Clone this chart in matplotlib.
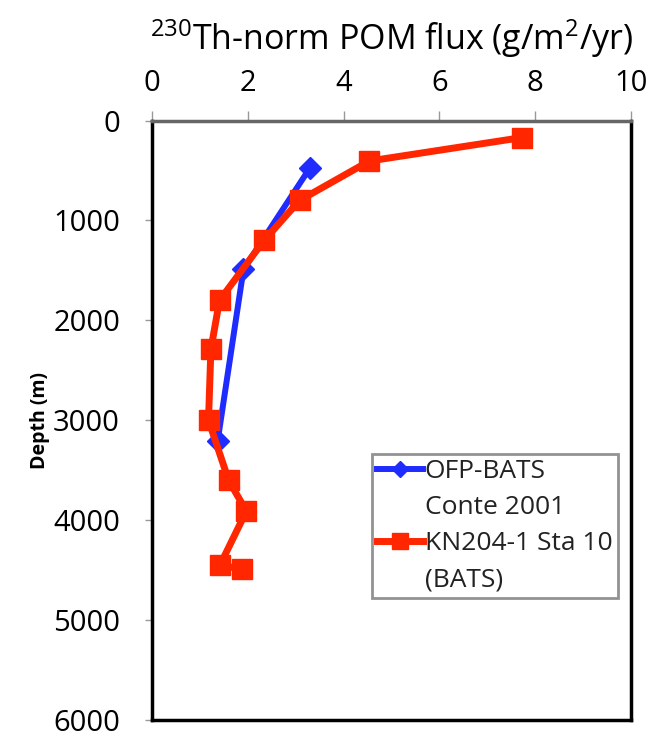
import matplotlib

matplotlib.use("Agg")
import matplotlib.pyplot as plt
from matplotlib.lines import Line2D

plt.rcParams["font.family"] = ["Open Sans", "DejaVu Sans"]
plt.rcParams["mathtext.default"] = "regular"

# OFP-BATS sediment trap (Conte 2001)
ofp_flux = [3.29, 1.91, 1.37]
ofp_depth = [480, 1490, 3210]

# KN204-1 Sta 10 (BATS)
kn_flux = [7.73, 4.54, 3.08, 2.34, 1.41, 1.23, 1.18, 1.60, 1.97, 1.42, 1.88]
kn_depth = [170, 405, 800, 1200, 1800, 2290, 3000, 3600, 3910, 4450, 4490]

x_ticks = [0, 2, 4, 6, 8, 10]
y_ticks = [0, 1000, 2000, 3000, 4000, 5000, 6000]

BLUE = "#1F2CFF"
RED = "#FF2600"

fig = plt.figure(figsize=(6.66, 7.39), dpi=100)
ax = fig.add_axes([0.2282, 0.0257, 0.7192, 0.8112])

ax.plot(ofp_flux, ofp_depth, color=BLUE, lw=4.3, marker="D", ms=11,
        solid_joinstyle="round", zorder=3)
ax.plot(kn_flux, kn_depth, color=RED, lw=5, marker="s", ms=15,
        solid_joinstyle="round", zorder=4)

ax.set_xlim(0, 10)
ax.set_ylim(6000, 0)
ax.set_xticks(x_ticks)
ax.set_yticks(y_ticks)
ax.xaxis.tick_top()
ax.xaxis.set_label_position("top")
ax.tick_params(axis="x", labelsize=21, length=7, width=1, color="#999999", pad=9)
ax.tick_params(axis="y", labelsize=21, length=5, width=1, color="#999999", pad=18)
ax.set_xlabel("$^{230}$Th-norm POM flux (g/m$^{2}$/yr)", fontsize=24.5, labelpad=14)
ax.set_ylabel("Depth (m)", fontsize=14, fontweight="bold", labelpad=2)

for side in ("left", "right", "bottom"):
    ax.spines[side].set_color("black")
    ax.spines[side].set_linewidth(2.5)
ax.spines["top"].set_color("#666666")
ax.spines["top"].set_linewidth(2.5)

handles = [
    Line2D([], [], color=BLUE, lw=4.3, marker="D", ms=8),
    Line2D([], [], linestyle="none"),
    Line2D([], [], color=RED, lw=5, marker="s", ms=11),
    Line2D([], [], linestyle="none"),
]
labels = ["OFP-BATS", "Conte 2001", "KN204-1 Sta 10", "(BATS)"]
leg = ax.legend(handles, labels, loc="upper left", bbox_to_anchor=(0.459, 0.4437),
                borderaxespad=0, fontsize=19, handlelength=1.75, handletextpad=0.05,
                labelspacing=0.42, borderpad=0.2, frameon=True, fancybox=False)
leg.get_frame().set_edgecolor("#777777")
leg.get_frame().set_linewidth(2)
for t in leg.get_texts():
    t.set_color("#222222")

fig.savefig("out.png", dpi=100)
